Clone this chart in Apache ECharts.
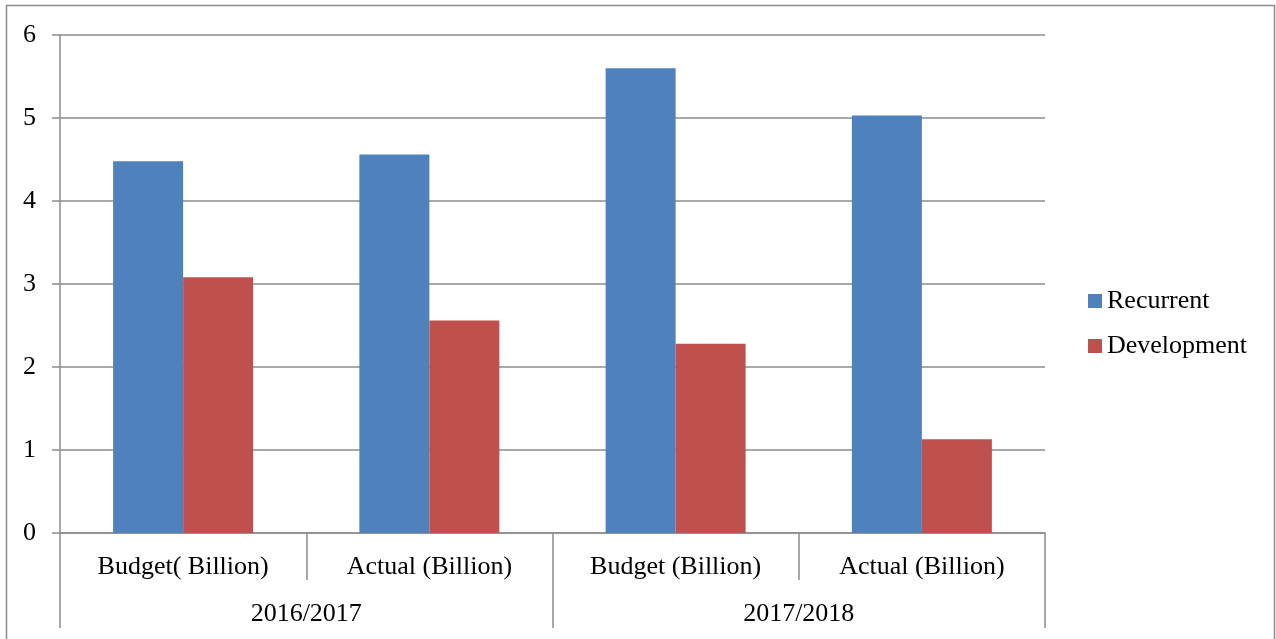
<!DOCTYPE html>
<html><head><meta charset="utf-8">
<script src="https://cdn.jsdelivr.net/npm/echarts@6/dist/echarts.min.js"></script>
<style>html,body{margin:0;padding:0;background:#fff}#c{width:1276px;height:639px}</style>
</head><body><div id="c"></div>
<script>
const categories = ['Budget( Billion)', 'Actual (Billion)', 'Budget (Billion)', 'Actual (Billion)'];
const years = ['2016/2017', '2017/2018'];
const recurrent = [4.48, 4.56, 5.6, 5.03];
const development = [3.08, 2.56, 2.28, 1.13];
const yTicks = [0, 1, 2, 3, 4, 5, 6];

const gray = '#8c8c8c';
const font = 'Liberation Serif';
const fs = 26;
const chart = echarts.init(document.getElementById('c'));
chart.setOption({
  animation: false,
  textStyle: { fontFamily: font },
  grid: { left: 60, right: 231, top: 35, bottom: 106 },
  graphic: [{ type: 'rect', shape: { x: 6.5, y: 5.5, width: 1268, height: 700 }, style: { fill: 'none', stroke: gray, lineWidth: 1.5 } }],
  legend: {
    orient: 'vertical', left: 1083, top: 283, itemWidth: 14, itemHeight: 14, itemGap: 19,
    icon: 'rect', textStyle: { fontFamily: font, fontSize: fs, color: '#000' },
    data: ['Recurrent', 'Development']
  },
  xAxis: [{
    type: 'category', data: categories, position: 'bottom',
    axisLine: { show: true, lineStyle: { color: gray, width: 1.5 } },
    axisTick: { show: true, interval: 0, length: 47, lineStyle: { color: gray, width: 1.5 } },
    axisLabel: { interval: 0, fontFamily: font, fontSize: fs, color: '#000', margin: 21 }
  }, {
    type: 'category', data: years, position: 'bottom',
    axisLine: { show: false },
    axisTick: { show: true, interval: 0, length: 95, lineStyle: { color: gray, width: 1.5 } },
    axisLabel: { interval: 0, fontFamily: font, fontSize: fs, color: '#000', margin: 68 }
  }],
  yAxis: {
    type: 'value', min: yTicks[0], max: yTicks[yTicks.length - 1], interval: 1,
    axisLine: { show: true, lineStyle: { color: gray, width: 1.5 } },
    axisTick: { show: true, length: 8, lineStyle: { color: gray, width: 1.5 } },
    splitLine: { lineStyle: { color: gray, width: 1.5 } },
    axisLabel: { fontFamily: font, fontSize: fs, color: '#000', margin: 24 }
  },
  series: [
    { name: 'Recurrent', type: 'bar', data: recurrent, barWidth: 70, barGap: '0%', itemStyle: { color: '#4f81bd' } },
    { name: 'Development', type: 'bar', data: development, barWidth: 70, barGap: '0%', itemStyle: { color: '#c0504d' } }
  ]
});
</script></body></html>
